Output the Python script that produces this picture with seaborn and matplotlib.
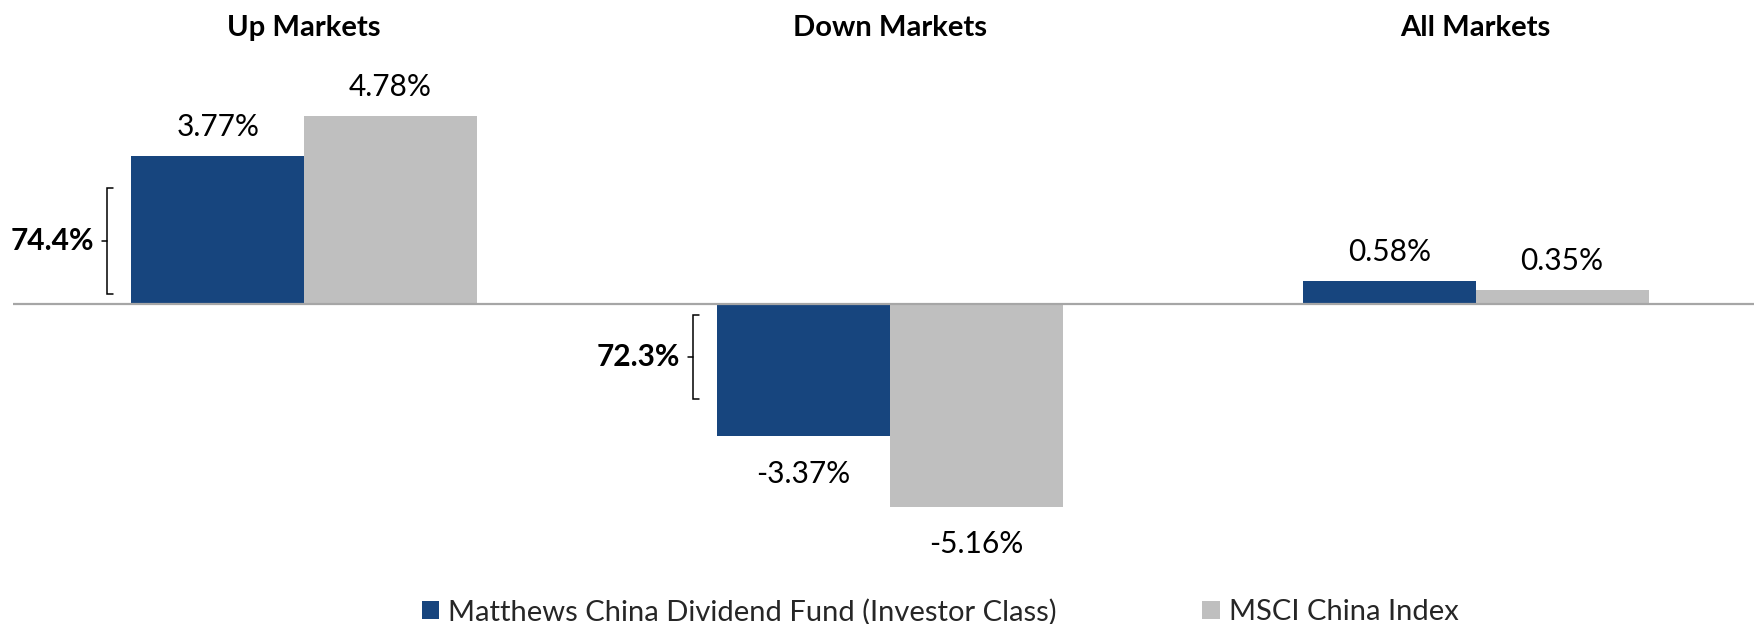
import pandas as pd
import numpy as np
import matplotlib.pyplot as plt
import matplotlib.transforms as mtransforms
import seaborn as sns
from matplotlib.patches import Patch

# data
markets = ['Up Markets', 'Down Markets', 'All Markets']
fund_name = 'Matthews China Dividend Fund (Investor Class)'
index_name = 'MSCI China Index'
fund_ret = [3.77, -3.37, 0.58]
index_ret = [4.78, -5.16, 0.35]

# capture ratio brackets (market index, label, span low/high in %)
capture_market = [0, 1]
capture_labels = ['74.4%', '72.3%']
capture_span = [(0.25, 2.95), (-0.28, -2.42)]

navy = '#17457E'
grey = '#BFBFBF'

df = pd.DataFrame({
    'market': markets * 2,
    'series': [fund_name] * 3 + [index_name] * 3,
    'ret': fund_ret + index_ret,
})

sns.set_style('white')
plt.rcParams['font.family'] = ['Lato', 'DejaVu Sans']

fig = plt.figure(figsize=(17.54, 6.24), dpi=100)
ax = fig.add_axes([0.0074, 0.135, 0.9926, 0.737])

width = 0.59
sns.barplot(data=df, x='market', y='ret', hue='series', order=markets,
            hue_order=[fund_name, index_name], palette=[navy, grey],
            width=width, gap=0, dodge=True, saturation=1, legend=False,
            linewidth=0, ax=ax)

ax.set_xlim(-0.497, 2.475)
ax.set_ylim(-6.0, 5.70)
ax.axhline(0, color='#A6A6A6', lw=1.6, zorder=3)
for s in ax.spines.values():
    s.set_visible(False)
ax.set_xticks([])
ax.set_yticks([])
ax.set_xlabel('')
ax.set_ylabel('')

# value labels
for cont in ax.containers:
    for bar in cont:
        h = bar.get_height()
        xc = bar.get_x() + bar.get_width() / 2
        off = 21 if h >= 0 else -27
        ax.annotate(f'{h:.2f}%', (xc, h), xytext=(0, off), textcoords='offset points',
                    ha='center', va='center', fontsize=21.5, color='black')

# market titles
blend = mtransforms.blended_transform_factory(ax.transData, fig.transFigure)
for i, m in enumerate(markets):
    ax.text(i, 1 - 28 / 624, m, transform=blend, ha='center', va='center',
            fontsize=21, fontweight='bold', color='black', clip_on=False)

# capture brackets
bar_w = width / 2
for mi, lab, (y0, y1) in zip(capture_market, capture_labels, capture_span):
    xb = mi - bar_w - 0.042
    ym = (y0 + y1) / 2
    ax.plot([xb + 0.011, xb, xb, xb + 0.011], [y0, y0, y1, y1], color='black', lw=1.1,
            solid_joinstyle='miter')
    ax.plot([xb, xb - 0.008], [ym, ym], color='black', lw=1.1)
    ax.text(xb - 0.022, ym, lab, ha='right', va='center', fontsize=21.5,
            fontweight='bold', color='black')

handles = [Patch(facecolor=navy, edgecolor='none'), Patch(facecolor=grey, edgecolor='none')]
fig.legend(handles, [fund_name, index_name], loc='center', bbox_to_anchor=(940 / 1754, 1 - 612 / 624),
           ncol=2, frameon=False, fontsize=21, handlelength=0.6, handleheight=0.6,
           handletextpad=0.3, columnspacing=5.0, borderaxespad=0, borderpad=0)

fig.savefig('out.png', dpi=100)
